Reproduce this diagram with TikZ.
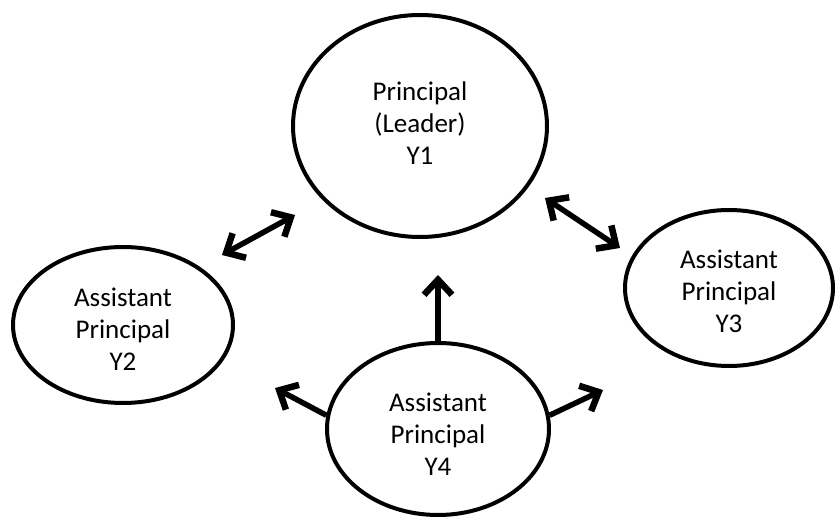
\documentclass[tikz,border=0pt]{standalone}
\usepackage{fontspec}
\setmainfont{Carlito}
\usetikzlibrary{shapes.geometric,arrows.meta}
\newcommand\lowtext[2]{\raisebox{#1}[\height][\depth]{\begin{tabular}{@{}c@{}}#2\end{tabular}}}
\tikzset{
  bubble/.style={ellipse, draw=black, line width=4pt, inner sep=0pt, align=center,
    font=\fontsize{27}{32}\selectfont, text=black},
  link/.style={line width=5.5pt, draw=black},
  tip/.style={-{Straight Barb[length=15pt,width=28pt,line width=1pt 1]}},
  tips/.style={{Straight Barb[length=15pt,width=28pt,line width=1pt 1]}-{Straight Barb[length=15pt,width=28pt,line width=1pt 1]}}
}
\begin{document}
\begin{tikzpicture}[x=1pt,y=-1pt]
\useasboundingbox (0,0) rectangle (836,529);
\node[bubble, minimum width=254pt, minimum height=222pt] (y1) at (420,126) {\lowtext{0pt}{Principal\\(Leader)\\Y1}};
\node[bubble, minimum width=220pt, minimum height=156pt] (y2) at (123,325) {\lowtext{-7pt}{Assistant\\Principal\\Y2}};
\node[bubble, minimum width=208pt, minimum height=156pt] (y3) at (729,288) {\lowtext{-6pt}{Assistant\\Principal\\Y3}};
\node[bubble, minimum width=222pt, minimum height=172pt] (y4) at (438,429) {\lowtext{-8pt}{Assistant\\Principal\\Y4}};
\coordinate (a1) at (222,255);
\coordinate (a2) at (295,215);
\coordinate (b1) at (545,198);
\coordinate (b2) at (620,248);
\coordinate (up) at (438,275);
\coordinate (lt) at (275,388);
\coordinate (rt) at (603,390);
\draw[link,tips] (a1) -- (a2);
\draw[link,tips] (b1) -- (b2);
\draw[link,tip] (y4.north) -- (up);
\draw[link,tip] (y4.173) -- (lt);
\draw[link,tip] (y4.7) -- (rt);
\end{tikzpicture}
\end{document}
